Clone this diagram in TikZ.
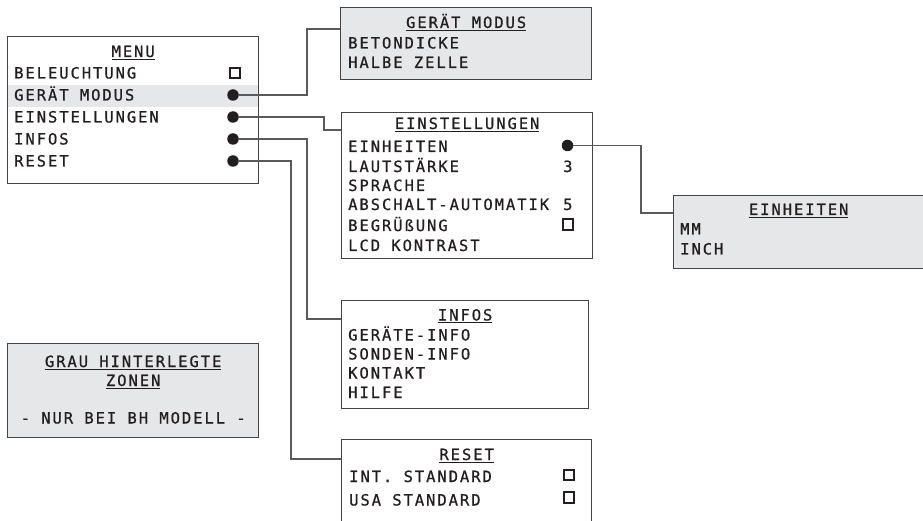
\documentclass[tikz,border=0pt]{standalone}
\usepackage{fontspec}
\usepackage{tikz}
\usetikzlibrary{positioning}

\newfontfamily\lcdfont[LetterSpace=12.5, FakeBold=0.8]{DejaVu Sans Mono}
\newcommand{\lcd}{\lcdfont\fontsize{15.5}{18}\selectfont}
\newcommand{\ulword}[1]{\setbox0\hbox{#1}\rlap{\rule[-2.8pt]{\wd0}{1.2pt}}\box0}

\definecolor{inkblack}{HTML}{231F20}
\definecolor{boxgray}{HTML}{444444}
\definecolor{wiregray}{HTML}{5A5A5A}
\definecolor{zonegray}{HTML}{E6E7E8}

\begin{document}
\begin{tikzpicture}[
        x=1pt, y=-1pt,
        font=\lcd,
        panel/.style={rectangle, draw=boxgray, line width=1.3pt, anchor=north west, minimum width=251pt, inner sep=0pt},
        shaded/.style={panel, fill=zonegray},
        band/.style={rectangle, fill=zonegray, anchor=north west, minimum width=251pt, minimum height=22pt, inner sep=0pt},
        title/.style={anchor=base, inner sep=0pt, text=inkblack},
        item/.style={anchor=base west, inner sep=0pt, text=inkblack},
        dot/.style={circle, fill=inkblack, minimum size=11.5pt, inner sep=0pt},
        tick/.style={rectangle, draw=inkblack, line width=1.8pt, minimum size=10.5pt, inner sep=0pt},
        wire/.style={draw=wiregray, line width=1.2pt}
      ]
      \useasboundingbox (0,0) rectangle (923,521);

      % Menu
      \node[band] (hilite) at (7,85) {};
      \node[panel, minimum height=147pt] (menu) at (7,36) {};
      \node[title] (menutitle) at ([yshift=-21pt]menu.north) {\ulword{MENU}};
      \node[item] (m1) at (14,78.5) {BELEUCHTUNG};
      \node[item] (m2) at (14,100.5) {GERÄT MODUS};
      \node[item] (m3) at (14,122.5) {EINSTELLUNGEN};
      \node[item] (m4) at (14,144.5) {INFOS};
      \node[item] (m5) at (14,166.5) {RESET};
      \node[tick] (box1) at (235,73) {};
      \node[dot] (dot2) at (233,95) {};
      \node[dot] (dot3) at (233,117) {};
      \node[dot] (dot4) at (233,139) {};
      \node[dot] (dot5) at (233,161) {};

      % Geraet Modus
      \node[shaded, minimum height=72pt] (geraet) at (340,7) {};
      \node[title] (geraettitle) at ([yshift=-21pt]geraet.north) {\ulword{GERÄT MODUS}};
      \node[item] (g1) at (348,48.5) {BETONDICKE};
      \node[item] (g2) at (348,68) {HALBE ZELLE};

      % Einstellungen
      \node[panel, minimum height=146pt] (einst) at (341,112) {};
      \node[title] (einsttitle) at ([yshift=-17pt]einst.north) {\ulword{EINSTELLUNGEN}};
      \node[item] (e1) at (348,152) {EINHEITEN};
      \node[item] (e2) at (348,172) {LAUTSTÄRKE};
      \node[item] (e3) at (348,191) {SPRACHE};
      \node[item] (e4) at (348,210) {ABSCHALT-AUTOMATIK};
      \node[item] (e5) at (348,231) {BEGRÜßUNG};
      \node[item] (e6) at (348,251) {LCD KONTRAST};
      \node[dot] (dot6) at (567.5,145.5) {};
      \node[item] (v2) at (563,172) {3};
      \node[item] (v4) at (563,210) {5};
      \node[tick] (box5) at (568,224.5) {};

      % Einheiten
      \node[shaded, minimum width=254pt, minimum height=73pt] (einheiten) at (673,195) {};
      \node[title] (einheitentitle) at ([xshift=-2pt, yshift=-20pt]einheiten.north) {\ulword{EINHEITEN}};
      \node[item] (u1) at (680,234.5) {MM};
      \node[item] (u2) at (680,254.5) {INCH};

      % Infos
      \node[panel, minimum width=247pt, minimum height=108pt] (infos) at (341,300) {};
      \node[title] (infostitle) at ([yshift=-20.5pt]infos.north) {\ulword{INFOS}};
      \node[item] (i1) at (348,340.5) {GERÄTE-INFO};
      \node[item] (i2) at (348,359.5) {SONDEN-INFO};
      \node[item] (i3) at (348,378.5) {KONTAKT};
      \node[item] (i4) at (348,398) {HILFE};

      % Grau hinterlegte Zonen
      \node[shaded, minimum height=94pt] (grau) at (7,343) {};
      \node[title] (grau1) at ([yshift=-24pt]grau.north) {\ulword{GRAU HINTERLEGTE}};
      \node[title] (grau2) at ([yshift=-43pt]grau.north) {\ulword{ZONEN}};
      \node[title] (grau3) at ([yshift=-80.5pt]grau.north) {- NUR BEI BH MODELL -};

      % Reset
      \node[panel, minimum width=250pt, minimum height=110pt] (reset) at (341,439) {};
      \node[title] (resettitle) at ([yshift=-21pt]reset.north) {\ulword{RESET}};
      \node[item] (r1) at (349,482) {INT. STANDARD};
      \node[item] (r2) at (349,505.5) {USA STANDARD};
      \node[tick] (box6) at (569,475) {};
      \node[tick] (box7) at (569,497.5) {};

      % Connections
      \draw[wire] (dot2) -- ++(74,0) |- ([yshift=-22pt]geraet.north west);
      \draw[wire] (dot3) -- ++(91,0) |- ([yshift=-18pt]einst.north west);
      \draw[wire] (dot4) -- ++(74,0) |- ([yshift=-19pt]infos.north west);
      \draw[wire] (dot5) -- ++(58,0) |- ([yshift=-20pt]reset.north west);
      \draw[wire] (dot6) -- ++(73.5,0) |- ([yshift=-18pt]einheiten.north west);

    \end{tikzpicture}
\end{document}
